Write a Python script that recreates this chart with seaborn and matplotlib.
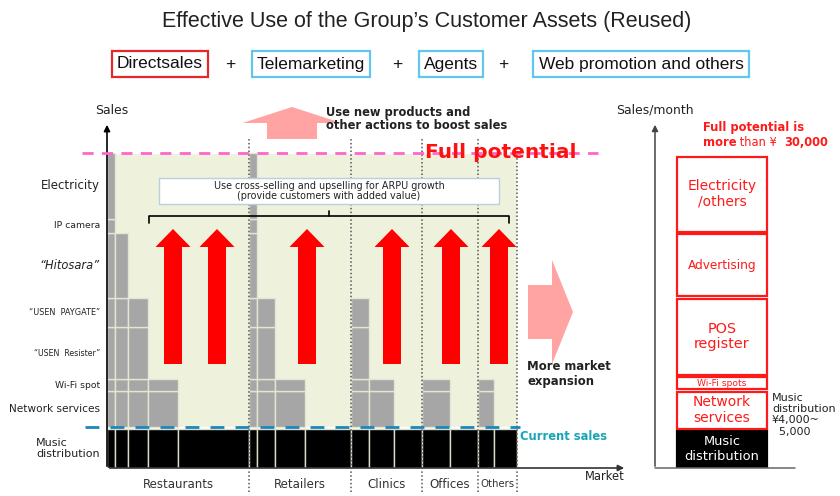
import numpy as np
import matplotlib
matplotlib.use("Agg")
import matplotlib.pyplot as plt
from matplotlib.patches import Rectangle
import seaborn as sns

# market segments and customer columns (width = share of market, layers = services used)
segments = ["Restaurants", "Retailers", "Clinics", "Offices", "Others"]
restaurants_widths = [8, 13, 20, 30, 71]
restaurants_layers = [7, 5, 4, 2, 0]
retailers_widths = [8, 18, 30, 46]
retailers_layers = [7, 4, 2, 0]
clinics_widths = [18, 25, 28]
clinics_layers = [4, 2, 0]
offices_widths = [28, 28]
offices_layers = [2, 0]
others_widths = [16, 23]
others_layers = [2, 0]

service_labels = ["Network services", "Wi-Fi spot", "\u201cUSEN  Resister\u201d",
                  "\u201cUSEN  PAYGATE\u201d", "\u201cHitosara\u201d", "IP camera", "Electricity"]
service_heights = [36, 12, 52, 29, 65, 14, 66]
music_height = 39

boost_arrow_x = [66, 110, 200, 285, 344, 392]

monthly_labels = ["Music\ndistribution", "Network\nservices", "Wi-Fi spots",
                  "POS\nregister", "Advertising", "Electricity\n/others"]
monthly_heights = [36, 37, 12, 76, 62, 75]

channels = ["Directsales", "Telemarketing", "Agents", "Web promotion and others"]

sns.set_theme(style="white")
plt.rcParams["font.family"] = ["DejaVu Sans"]

W, H = 840, 496
fig = plt.figure(figsize=(8.4, 4.96), dpi=100)


def px_axes(x0, y0, x1, y1):
    a = fig.add_axes([x0 / W, 1 - y1 / H, (x1 - x0) / W, (y1 - y0) / H])
    a.set_xlim(0, x1 - x0)
    a.set_ylim(0, y1 - y0)
    a.axis("off")
    return a


# ---------------- header ----------------
ax_o = fig.add_axes([0, 0, 1, 1])
ax_o.set_xlim(0, W)
ax_o.set_ylim(H, 0)
ax_o.axis("off")
ax_o.text(427, 21, "Effective Use of the Group\u2019s Customer Assets (Reused)",
          ha="center", va="center", fontsize=15.5, family="Liberation Sans", color="#222")
chan_x = [160, 311, 451, 641]
plus_x = [230, 397, 503]
for i, (name, cx) in enumerate(zip(channels, chan_x)):
    ec = "#e8262b" if i == 0 else "#62c6ee"
    ax_o.text(cx, 64, name, ha="center", va="center", fontsize=12.5,
              family="Liberation Sans", color="#111",
              bbox=dict(boxstyle="square,pad=0.3", fc="white", ec=ec, lw=1.6))
for px in plus_x:
    ax_o.text(px, 64, "+", ha="center", va="center", fontsize=12.5,
              family="Liberation Sans", color="#111")

# ---------------- main chart ----------------
ax = px_axes(107, 120, 640, 468)

seg_widths = [restaurants_widths, retailers_widths, clinics_widths, offices_widths, others_widths]
seg_layers = [restaurants_layers, retailers_layers, clinics_layers, offices_layers, others_layers]
gap = 2
bottoms = music_height + gap + np.concatenate([[0], np.cumsum(service_heights)[:-1]])
total_w = sum(sum(w) for w in seg_widths)

ax.bar(0, sum(service_heights), bottom=music_height + gap, width=total_w,
       align="edge", color="#eef2dd", zorder=0)

x = 0
seg_edges = [0]
for widths, layers in zip(seg_widths, seg_layers):
    for w, n in zip(widths, layers):
        ax.bar(x, music_height, width=w, align="edge", color="black",
               edgecolor="#d8dccb", linewidth=1, zorder=2)
        if n:
            ax.bar([x] * n, service_heights[:n], bottom=bottoms[:n], width=w,
                   align="edge", color="#a6a6a6", edgecolor="#e3e6d3",
                   linewidth=1, zorder=2)
        x += w
    seg_edges.append(x)

top = music_height + gap + sum(service_heights)
ax.vlines(seg_edges[1:-1], -24, 330, colors="#555", linestyles=(0, (1, 1.5)),
          lw=1.1, zorder=4, clip_on=False)
ax.vlines(seg_edges[-1], -24, top, colors="#555", linestyles=(0, (1, 1.5)),
          lw=1.1, zorder=4, clip_on=False)

for i, name in enumerate(segments):
    mid = (seg_edges[i] + seg_edges[i + 1]) / 2
    ax.text(mid, -16, name, ha="center", va="center",
            fontsize=7.3 if name == "Others" else 8.5, color="#333")

# axes arrows
ax.annotate("", xy=(0, 346), xytext=(0, -1),
            arrowprops=dict(arrowstyle="-|>", color="black", lw=1.2, mutation_scale=9))
ax.annotate("", xy=(520, 0), xytext=(0, 0),
            arrowprops=dict(arrowstyle="-|>", color="#333", lw=1.2, mutation_scale=9))
ax.text(5, 358, "Sales", ha="center", va="center", fontsize=8.9, color="#222")
ax.text(498, -9, "Market", ha="center", va="center", fontsize=8.3, color="#222")

# service labels
label_sizes = [7.6, 6.7, 5.7, 5.9, 8.3, 6.7, 8.5]
for name, b, h, fs in zip(service_labels, bottoms, service_heights, label_sizes):
    ax.text(-7, b + h / 2, name, ha="right", va="center", fontsize=fs,
            color="#222", style="italic" if "Hitosara" in name else "normal")
ax.text(-71, music_height / 2, "Music\ndistribution", ha="left", va="center",
        fontsize=8, color="#222", linespacing=1.2)

# full potential / current sales lines
ax.hlines(top, -25, 491, colors="#ff66cc", linestyles=(0, (4, 3)), lw=2,
          zorder=5, clip_on=False)
ax.text(318, top, "Full potential", ha="left", va="center", fontsize=14.5,
        fontweight="bold", color="#ff1010", zorder=6)
ax.hlines(music_height + gap, -22, 413, colors="#1b88bd", linestyles=(0, (5, 4)),
          lw=2, zorder=5, clip_on=False)
ax.text(413, 32, "Current sales", ha="left", va="center", fontsize=8.3,
        fontweight="bold", color="#17a5b8")

# red growth arrows
for ax_x in boost_arrow_x:
    ax.arrow(ax_x, 104, 0, 135, width=18, head_width=35, head_length=18,
             length_includes_head=True, color="red", lw=0, zorder=3)

# bracket and cross-selling box
ax.plot([42, 42, 402, 402], [245, 252, 252, 245], color="black", lw=1.2, zorder=4)
ax.plot([222, 222], [252, 257], color="black", lw=1.2, zorder=4)
ax.add_patch(Rectangle((52, 264), 340, 26, facecolor="white",
                       edgecolor="#b9cfe0", lw=1, zorder=4))
ax.text(222, 277, "Use cross-selling and upselling for ARPU growth\n"
        "(provide customers with added value)", ha="center", va="center",
        fontsize=6.9, color="#222", linespacing=1.1, zorder=5)

# pink arrows
ax.arrow(185, 329, 0, 32, width=50, head_width=99, head_length=16,
         length_includes_head=True, color="#ffa3a3", lw=0, clip_on=False, zorder=3)
ax.text(219, 349, "Use new products and\nother actions to boost sales", ha="left",
        va="center", fontsize=8.3, fontweight="bold", color="#222", linespacing=1.05)
ax.arrow(421, 156, 45, 0, width=54, head_width=104, head_length=21,
         length_includes_head=True, color="#ffa3a3", lw=0, clip_on=False, zorder=3)
ax.text(420, 94, "More market\nexpansion", ha="left", va="center", fontsize=8.4,
        fontweight="bold", color="#222", linespacing=1.1)

# ---------------- right chart ----------------
ax_r = px_axes(655, 122, 800, 468)
r_gap = 2.5
r_bottoms = 1 + np.concatenate([[0], np.cumsum(np.array(monthly_heights) + r_gap)[:-1]])
r_sizes = [9.4, 10, 6.6, 10.4, 8.7, 10]
for i, (name, b, h, fs) in enumerate(zip(monthly_labels, r_bottoms, monthly_heights, r_sizes)):
    is_music = i == 0
    ax_r.bar(22, h, bottom=b, width=90, align="edge",
             color="black" if is_music else "white",
             edgecolor="black" if is_music else "#ff1a1a", linewidth=1.6)
    ax_r.text(67, b + h / 2, name, ha="center", va="center", fontsize=fs,
              color="white" if is_music else "#ff1a1a", linespacing=1.15)

ax_r.annotate("", xy=(0, 346), xytext=(0, -1),
              arrowprops=dict(arrowstyle="-|>", color="#444", lw=1.1, mutation_scale=9))
ax_r.plot([0, 140], [0, 0], color="#666", lw=1.1, clip_on=False)
ax_r.text(0, 358, "Sales/month", ha="center", va="center", fontsize=8.9, color="#222")
ax_r.text(48, 340, "Full potential is", ha="left", va="center", fontsize=8.3,
          fontweight="bold", color="#ff1a1a")
t1 = ax_r.text(48, 326, "more", ha="left", va="center", fontsize=8.3,
               fontweight="bold", color="#ff1a1a")
t2 = ax_r.annotate(" than \u00a5  ", xy=(1, 0.5), xycoords=t1, ha="left", va="center",
                   fontsize=8.3, color="#ff1a1a")
ax_r.annotate("30,000", xy=(1, 0.5), xycoords=t2, ha="left", va="center",
              fontsize=8.3, fontweight="bold", color="#ff1a1a")
ax_r.text(117, 75, "Music\ndistribution\n\u00a54,000~\n  5,000", ha="left", va="top",
          fontsize=8, color="#222", linespacing=1.15)

fig.savefig("out.png", dpi=100)
